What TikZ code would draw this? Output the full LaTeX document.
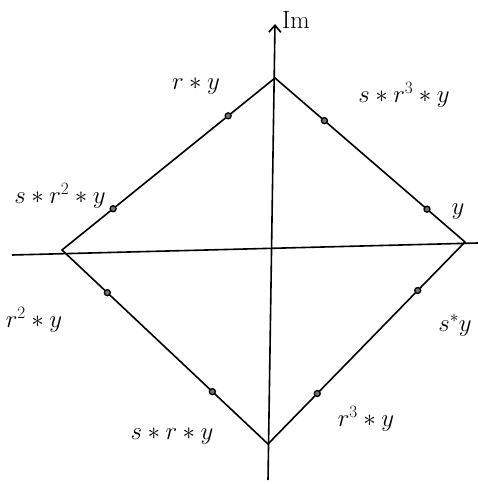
\documentclass[tikz,border=0pt]{standalone}
\usepackage{amsmath,amssymb}
\usepackage{xcolor}
\usetikzlibrary{calc,arrows.meta,positioning}

\tikzset{
    edge/.style={line width=1.6pt},
    orbit/.style={circle, draw, line width=1.3pt, fill=black!55, inner sep=0pt, minimum size=6pt},
    lbl/.style={font=\fontsize{25}{29}\selectfont, inner sep=1pt}
}

\begin{document}
\begin{tikzpicture}[x=1pt, y=-1pt]
    \useasboundingbox (0,0) rectangle (478,484);

    % Axes end points
    \coordinate (Xl) at (12,255);
    \coordinate (Xr) at (478,243);
    \coordinate (Yb) at (268,480);
    \coordinate (Yt) at (275,24);

    % Corners of the diamond
    \coordinate (T) at (275,78);
    \coordinate (R) at (465,242);
    \coordinate (B) at (268,444);
    \coordinate (L) at (62,250);

    % Draw the axes
    \draw[edge] (Xl) -- (Xr);
    \draw[edge, -{Straight Barb[length=7pt, width=12pt]}] (Yb) -- (Yt);
    \node[lbl, above right=-6pt and 6pt] (im) at (Yt) {Im};

    % Draw the diamond
    \draw[edge] (L) -- (T) -- (R) -- (B) -- cycle;

    % Mark the points of the orbit
    \node[orbit] (p1) at ($(T)!0.26!(R)$) {};
    \node[orbit] (p2) at ($(T)!0.80!(R)$) {};
    \node[orbit] (p3) at ($(R)!0.24!(B)$) {};
    \node[orbit] (p4) at ($(R)!0.75!(B)$) {};
    \node[orbit] (p5) at ($(B)!0.27!(L)$) {};
    \node[orbit] (p6) at ($(B)!0.78!(L)$) {};
    \node[orbit] (p7) at ($(L)!0.24!(T)$) {};
    \node[orbit] (p8) at ($(L)!0.78!(T)$) {};

    % Label the points
    \node[lbl] (ry) at (196,86) {$r*y$};
    \node[lbl] (sr3y) at (404,95) {$s*r^3*y$};
    \node[lbl] (y) at (458,212) {$y$};
    \node[lbl] (sy) at (455,325) {$s^*y$};
    \node[lbl] (r3y) at (366,419) {$r^3*y$};
    \node[lbl] (sry) at (172,436) {$s*r*y$};
    \node[lbl] (r2y) at (34,320) {$r^2*y$};
    \node[lbl] (sr2y) at (60,196) {$s*r^2*y$};
\end{tikzpicture}
\end{document}
